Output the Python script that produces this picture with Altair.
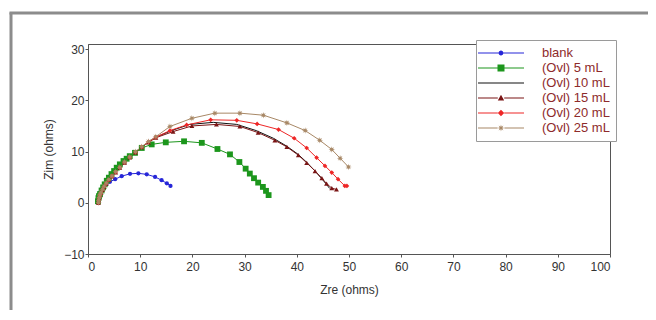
import math
import altair as alt
import pandas as pd

series_names = ["blank", "(Ovl) 5 mL", "(Ovl) 10 mL", "(Ovl) 15 mL", "(Ovl) 20 mL", "(Ovl) 25 mL"]
series_colors = ["#2626d8", "#1c961c", "#111111", "#7a1515", "#ee2626", "#a88866"]

blank_x = [1.9, 2.0, 2.1, 2.3, 2.6, 3.0, 3.5, 4.2, 5.2, 6.45, 8.05, 9.65, 11.25, 12.85, 14.1, 15.1, 15.8]
blank_y = [0.0, 0.7, 1.4, 2.0, 2.6, 3.1, 3.6, 4.1, 4.6, 5.2, 5.65, 5.75, 5.55, 5.05, 4.4, 3.8, 3.3]

ovl5_x = [1.9, 2.0, 2.1, 2.3, 2.6, 2.9, 3.2, 3.6, 4.0, 4.5, 5.0, 5.5, 6.1, 6.8, 7.4, 8.0, 9.0, 10.3,
          12.2, 14.9, 18.4, 21.8, 24.8, 27.2, 29.0, 30.2, 31.0, 31.8, 32.6, 33.5, 34.1, 34.6]
ovl5_y = [0.3, 0.9, 1.3, 1.7, 2.4, 3.0, 3.6, 4.3, 4.9, 5.6, 6.2, 6.85, 7.5, 8.15, 8.6, 9.1, 9.75, 10.7,
          11.4, 11.8, 12.0, 11.7, 10.5, 9.45, 7.96, 6.66, 5.7, 4.8, 3.94, 3.1, 2.33, 1.5]

ovl10_x = [2.0, 2.05, 2.15, 2.3, 2.5, 2.8, 3.1, 3.5, 4.0, 4.6, 5.3, 6.1, 7.0, 8.0, 9.1, 10.3, 11.6, 13.0,
           16.0, 19.5, 24.0, 28.5, 32.2, 35.5, 38.0, 40.2, 41.9, 43.4, 44.6, 45.6, 46.3]
ovl10_y = [0.0, 0.5, 1.0, 1.5, 2.0, 2.6, 3.2, 3.8, 4.5, 5.2, 6.0, 6.9, 7.9, 8.9, 9.9, 10.9, 11.9, 12.8,
           14.1, 15.3, 15.7, 15.3, 14.1, 12.6, 11.1, 9.5, 7.9, 6.3, 4.9, 3.7, 2.8]

ovl15_x = [2.0, 2.05, 2.15, 2.3, 2.5, 2.8, 3.1, 3.5, 4.0, 4.6, 5.3, 6.1, 7.0, 8.0, 9.1, 10.3, 11.6, 13.0,
           16.3, 19.9, 24.6, 29.1, 32.6, 35.8, 38.1, 40.3, 41.9, 43.5, 44.8, 45.7, 46.7, 47.6]
ovl15_y = [0.0, 0.45, 0.95, 1.45, 1.95, 2.55, 3.15, 3.75, 4.45, 5.15, 5.95, 6.85, 7.85, 8.85, 9.85, 10.85, 11.8, 12.7,
           13.9, 15.0, 15.3, 14.9, 13.7, 12.2, 10.9, 9.3, 7.8, 6.2, 4.8, 3.75, 2.85, 2.6]

ovl20_x = [2.0, 2.05, 2.15, 2.3, 2.5, 2.8, 3.1, 3.5, 4.0, 4.6, 5.3, 6.1, 7.0, 8.0, 9.1, 10.3, 11.6, 13.0,
           15.7, 18.9, 23.5, 28.5, 32.4, 36.5, 39.5, 41.9, 43.8, 45.4, 46.7, 47.9, 49.2, 49.6]
ovl20_y = [0.0, 0.5, 1.0, 1.5, 2.0, 2.6, 3.2, 3.8, 4.5, 5.2, 6.0, 6.9, 7.9, 8.9, 9.9, 10.9, 11.9, 12.8,
           14.1, 15.2, 16.2, 16.1, 15.4, 14.3, 12.6, 10.7, 8.8, 7.2, 5.9, 4.6, 3.3, 3.3]

ovl25_x = [2.0, 2.05, 2.15, 2.3, 2.5, 2.8, 3.1, 3.5, 4.0, 4.6, 5.3, 6.1, 7.0, 8.0, 9.1, 10.3, 11.6, 13.0,
           15.7, 19.9, 24.3, 29.1, 33.6, 38.1, 41.6, 44.4, 46.7, 48.3, 49.9]
ovl25_y = [0.0, 0.5, 1.05, 1.55, 2.05, 2.65, 3.25, 3.85, 4.55, 5.25, 6.05, 6.95, 7.95, 8.95, 9.95, 10.95, 11.95, 12.9,
           14.9, 16.5, 17.5, 17.5, 17.1, 15.6, 14.1, 12.2, 10.4, 8.7, 7.0]

x_ticks = list(range(0, 101, 5))
y_ticks = list(range(-10, 31, 5))

all_x = [blank_x, ovl5_x, ovl10_x, ovl15_x, ovl20_x, ovl25_x]
all_y = [blank_y, ovl5_y, ovl10_y, ovl15_y, ovl20_y, ovl25_y]

rows = []
for name, xs, ys in zip(series_names, all_x, all_y):
    for i, (a, b) in enumerate(zip(xs, ys)):
        rows.append({"series": name, "zre": a, "zim": b, "order": i})
df = pd.DataFrame(rows)

# ---- marker shapes ----
star_pts = []
for k in range(16):
    r = 1.0 if k % 2 == 0 else 0.42
    ang = k * math.pi / 8
    star_pts.append((r * math.cos(ang), r * math.sin(ang)))
star_path = "M" + "L".join(f"{px:.3f},{py:.3f}" for px, py in star_pts) + "Z"

marker_shapes = ["circle", "square", None, "triangle-up", "diamond", star_path]
marker_sizes = [18, 34, 0, 24, 22, 42]

# ---- legend symbol paths (line + marker), unit = sqrt(symbolSize)/2 px ----
SYM = 196
U = math.sqrt(SYM) / 2
L0, L1, C, H = -11.0, 35.0, 12.0, 0.6


def f(v):
    return f"{v / U:.3f}"


def rect(x0, x1, y0, y1):
    return f"M{f(x0)},{f(y0)}H{f(x1)}V{f(y1)}H{f(x0)}Z"


def line_with_gap(h):
    return rect(L0, C - h, -H, H) + rect(C + h, L1, -H, H)


def circle(r):
    return (f"M{f(C + r)},0A{f(r)},{f(r)} 0 1,1 {f(C - r)},0"
            f"A{f(r)},{f(r)} 0 1,1 {f(C + r)},0Z")


def poly(pts):
    return "M" + "L".join(f"{f(C + a)},{f(b)}" for a, b in pts) + "Z"


legend_paths = [
    line_with_gap(2.4) + circle(2.4),
    line_with_gap(3.5) + rect(C - 3.5, C + 3.5, -3.5, 3.5),
    rect(L0, L1, -H, H),
    line_with_gap(3.2) + poly([(0, -3.2), (3.2, 2.6), (-3.2, 2.6)]),
    line_with_gap(3.2) + poly([(0, -3.2), (3.2, 0), (0, 3.2), (-3.2, 0)]),
    line_with_gap(3.4) + poly([(3.4 * px, 3.4 * py) for px, py in star_pts]),
]

x_enc = alt.X(
    "zre:Q",
    scale=alt.Scale(domain=[0, 100], nice=False, zero=False),
    axis=alt.Axis(
        values=x_ticks,
        labelExpr="datum.value % 10 === 0 ? datum.label : ''",
        title="Zre (ohms)",
        tickSize=3,
        labelPadding=4,
        titlePadding=12,
    ),
)
y_enc = alt.Y(
    "zim:Q",
    scale=alt.Scale(domain=[-10, 31], nice=False, zero=False),
    axis=alt.Axis(
        values=y_ticks,
        labelExpr="datum.value % 10 === 0 ? datum.label : ''",
        title="Zim (ohms)",
        tickSize=3,
        labelPadding=1,
        titlePadding=8,
    ),
)

lines = alt.Chart(df).mark_line(strokeWidth=1, clip=True).encode(
    x=x_enc,
    y=y_enc,
    color=alt.Color("series:N", scale=alt.Scale(domain=series_names, range=series_colors), legend=None),
    detail="series:N",
    order="order:Q",
)

point_layers = []
for name, color, shp, sz in zip(series_names, series_colors, marker_shapes, marker_sizes):
    if shp is None:
        continue
    point_layers.append(
        alt.Chart(df)
        .transform_filter(alt.datum.series == name)
        .mark_point(filled=True, opacity=1, shape=shp, size=sz, color=color, clip=True)
        .encode(x="zre:Q", y="zim:Q")
    )

legend_props = dict(
    title=None,
    orient="none",
    legendX=388,
    legendY=-4,
    padding=6,
    strokeColor="#9a9a9a",
    fillColor="white",
    symbolSize=SYM,
    symbolStrokeWidth=0,
    labelOffset=46,
    labelFont="Liberation Sans",
    labelFontSize=13,
    labelColor="#8e2b2b",
    rowPadding=1,
)

legend_layer = (
    alt.Chart(pd.DataFrame({"series": series_names}))
    .transform_filter("false")
    .mark_point(filled=True, opacity=1)
    .encode(
        color=alt.Color("series:N", scale=alt.Scale(domain=series_names, range=series_colors),
                        legend=alt.Legend(**legend_props)),
        shape=alt.Shape("series:N", scale=alt.Scale(domain=series_names, range=legend_paths),
                        legend=alt.Legend(**legend_props)),
    )
)

frame_df = pd.DataFrame({"k": [0]})
frame_left = alt.Chart(frame_df).mark_rule(color="#8c8c8c", strokeWidth=3).encode(
    x=alt.value(-77), y=alt.value(-31.5), y2=alt.value(300)
)
frame_top = alt.Chart(frame_df).mark_rule(color="#8c8c8c", strokeWidth=3).encode(
    y=alt.value(-31), x=alt.value(-78.5), x2=alt.value(600)
)

chart = (
    alt.layer(frame_left, frame_top, lines, *point_layers, legend_layer)
    .resolve_scale(color="independent", shape="independent")
    .properties(
        width=522,
        height=210,
        autosize=alt.AutoSizeParams(type="none"),
        padding={"left": 80, "top": 36, "right": 38, "bottom": 56},
        background="white",
    )
    .configure_view(stroke="#555555", strokeWidth=1)
    .configure_axis(
        grid=False,
        domainColor="#555555",
        tickColor="#555555",
        labelFont="Liberation Sans",
        labelFontSize=12,
        labelColor="#333333",
        titleFont="Liberation Sans",
        titleFontSize=12,
        titleFontWeight="normal",
        titleColor="#333333",
    )
)

chart.save("out.html", embed_options={"renderer": "svg", "actions": False})
